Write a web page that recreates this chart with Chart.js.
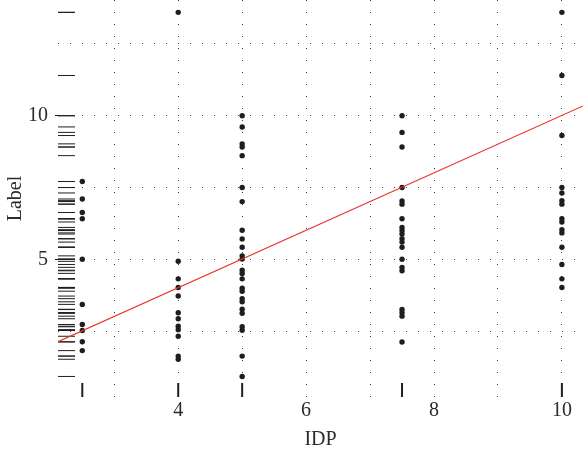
<!DOCTYPE html>
<html>
<head>
<meta charset="utf-8">
<script src="https://cdn.jsdelivr.net/npm/chart.js@4/dist/chart.umd.min.js"></script>
<style>
  html, body { margin: 0; padding: 0; background: #fff; }
  canvas { display: block; }
</style>
</head>
<body>
<canvas id="chart" width="583" height="457"></canvas>
<script>
// IDP levels and the observed Label values at each level
const idpLevels = [2.5, 4, 5, 7.5, 10];
const labelsIdp2_5 = [7.71, 7.10, 6.63, 6.41, 5.00, 3.43, 2.73, 2.52, 2.13, 1.82];
const labelsIdp4 = [13.6, 4.93, 4.32, 4.02, 3.72, 3.14, 2.93, 2.67, 2.55, 2.32, 1.63, 1.52];
const labelsIdp5 = [10.0, 9.61, 9.02, 8.91, 8.61, 7.50, 7.01, 6.01, 5.71, 5.42, 5.12, 5.01,
                    4.62, 4.51, 4.32, 3.99, 3.89, 3.63, 3.52, 3.26, 3.12, 2.65, 2.53, 1.63, 0.92];
const labelsIdp7_5 = [10.0, 9.42, 8.91, 7.50, 7.03, 6.92, 6.41, 6.11, 6.00, 5.88, 5.72, 5.60,
                      5.42, 5.00, 4.72, 4.60, 3.25, 3.14, 3.02, 2.12];
const labelsIdp10 = [13.6, 11.4, 9.31, 7.50, 7.31, 7.04, 6.92, 6.41, 6.30, 6.03, 5.92, 5.42,
                     4.82, 4.32, 4.02];
const labelsByLevel = [labelsIdp2_5, labelsIdp4, labelsIdp5, labelsIdp7_5, labelsIdp10];

// fitted line end points
const fitX = [2.12, 10.33];
const fitY = [2.13, 10.34];

// axis ticks (grid positions) and their printed labels
const xTickValues = [3, 4, 5, 6, 7, 8, 9, 10];
const xTickLabels = ['', '4', '', '6', '', '8', '', '10'];
const yTickValues = [2.5, 5, 7.5, 10, 12.5];
const yTickLabels = ['', '5', '', '10', ''];

const points = [];
idpLevels.forEach((lvl, i) => {
  labelsByLevel[i].forEach(v => points.push({ x: lvl, y: v }));
});
const allLabels = points.map(p => p.y);

const serif = 'Liberation Serif';
const textColor = '#2b2b2b';

// rug marks along the left and bottom edges of the plot region
const rugPlugin = {
  id: 'rug',
  beforeDatasetsDraw(chart) {
    const { ctx, chartArea: a, scales: { x, y } } = chart;
    ctx.save();
    ctx.strokeStyle = '#1e1e1e';
    ctx.lineWidth = 1;
    allLabels.forEach(v => {
      const py = y.getPixelForValue(v);
      ctx.beginPath();
      ctx.moveTo(a.left, py);
      ctx.lineTo(a.left + 17, py);
      ctx.stroke();
    });
    ctx.lineWidth = 2;
    idpLevels.forEach(v => {
      const px = x.getPixelForValue(v);
      ctx.beginPath();
      ctx.moveTo(px, a.bottom - 14);
      ctx.lineTo(px, a.bottom);
      ctx.stroke();
    });
    ctx.restore();
  }
};

new Chart(document.getElementById('chart'), {
  data: {
    datasets: [
      {
        type: 'scatter',
        data: points,
        pointRadius: 2.7,
        pointBackgroundColor: '#1e1e1e',
        pointBorderWidth: 0,
        order: 2
      },
      {
        type: 'line',
        data: fitX.map((xv, i) => ({ x: xv, y: fitY[i] })),
        borderColor: '#e8332c',
        borderWidth: 1.2,
        pointRadius: 0,
        fill: false,
        order: 1
      }
    ]
  },
  options: {
    responsive: false,
    animation: false,
    devicePixelRatio: 1,
    layout: { padding: 0, autoPadding: false },
    plugins: { legend: { display: false }, tooltip: { enabled: false } },
    scales: {
      x: {
        type: 'linear',
        min: 2.12,
        max: 10.33,
        afterBuildTicks: s => { s.ticks = xTickValues.map(v => ({ value: v })); },
        afterFit: s => { s.height = 60; s.paddingLeft = 0; s.paddingRight = 0; },
        ticks: {
          callback: v => xTickLabels[xTickValues.indexOf(v)],
          autoSkip: false,
          maxRotation: 0,
          padding: 2,
          color: textColor,
          font: { family: serif, size: 20 }
        },
        grid: { color: '#3a3a3a', lineWidth: 1, drawTicks: false, tickLength: 0 },
        border: { display: false, dash: [1, 11] },
        title: {
          display: true,
          text: 'IDP',
          color: textColor,
          font: { family: serif, size: 20 },
          padding: { top: 0, bottom: 5 }
        }
      },
      y: {
        type: 'linear',
        min: 0.205,
        max: 14.03,
        afterBuildTicks: s => { s.ticks = yTickValues.map(v => ({ value: v })); },
        afterFit: s => { s.width = 58; s.paddingTop = 0; s.paddingBottom = 0; },
        ticks: {
          callback: v => yTickLabels[yTickValues.indexOf(v)],
          autoSkip: false,
          padding: 7,
          color: textColor,
          font: { family: serif, size: 20 }
        },
        grid: {
          color: '#3a3a3a',
          lineWidth: 1,
          drawTicks: true,
          tickLength: 3,
          tickBorderDash: [],
          tickColor: c => (c.tick && yTickLabels[yTickValues.indexOf(c.tick.value)]) ? '#1e1e1e' : 'rgba(0,0,0,0)'
        },
        border: { display: false, dash: [1, 11] },
        title: {
          display: true,
          text: 'Label',
          color: textColor,
          font: { family: serif, size: 20 },
          padding: { top: 4, bottom: 0 }
        }
      }
    }
  },
  plugins: [rugPlugin]
});
</script>
</body>
</html>
